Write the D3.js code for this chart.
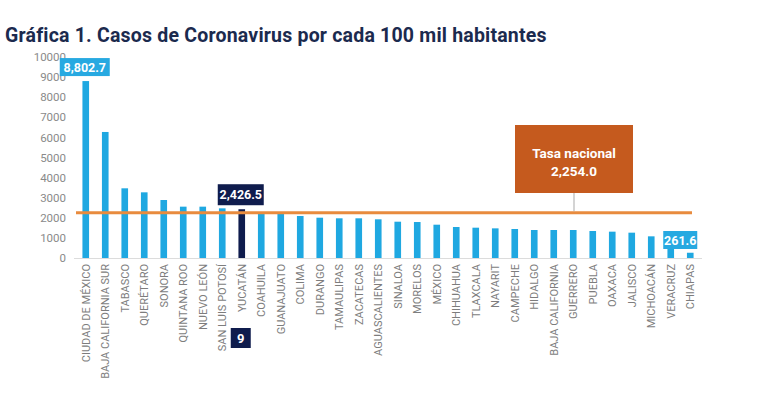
<!DOCTYPE html>
<html>
<head>
<meta charset="utf-8">
<script src="https://cdn.jsdelivr.net/npm/d3@7"></script>
<style>
  body { margin: 0; background: #fff; }
  text { font-family: Roboto, "Noto Sans", sans-serif; }
</style>
</head>
<body>
<div id="chart"></div>
<script>
// data
var estados = ['CIUDAD DE MÉXICO', 'BAJA CALIFORNIA SUR', 'TABASCO', 'QUERÉTARO', 'SONORA',
  'QUINTANA ROO', 'NUEVO LEÓN', 'SAN LUIS POTOSÍ', 'YUCATÁN', 'COAHUILA', 'GUANAJUATO',
  'COLIMA', 'DURANGO', 'TAMAULIPAS', 'ZACATECAS', 'AGUASCALIENTES', 'SINALOA', 'MORELOS',
  'MÉXICO', 'CHIHUAHUA', 'TLAXCALA', 'NAYARIT', 'CAMPECHE', 'HIDALGO', 'BAJA CALIFORNIA',
  'GUERRERO', 'PUEBLA', 'OAXACA', 'JALISCO', 'MICHOACÁN', 'VERACRUZ', 'CHIAPAS'];
var tasas = [8802.7, 6270, 3467, 3267, 2885, 2554, 2554, 2471, 2426.5, 2250, 2250,
  2090, 2005, 1975, 1975, 1925, 1806, 1790, 1657, 1542, 1508, 1475, 1443, 1393, 1393,
  1393, 1343, 1310, 1260, 1078, 1000, 261.6];
var yTicks = [0, 1000, 2000, 3000, 4000, 5000, 6000, 7000, 8000, 9000, 10000];
var tasaNacional = 2254.0;
var destacado = 'YUCATÁN';
var etiquetados = ['CIUDAD DE MÉXICO', 'CHIAPAS'];

var width = 768, height = 399;
var fmt = d3.format(',.1f');

var svg = d3.select('#chart').append('svg')
  .attr('width', width)
  .attr('height', height);

// title
svg.append('text')
  .attr('x', 5).attr('y', 42)
  .attr('fill', '#1b2a4e')
  .attr('font-size', 19.5).attr('font-weight', 700)
  .attr('letter-spacing', 0.2)
  .text('Gráfica 1. Casos de Coronavirus por cada 100 mil habitantes');

// scales
var x = d3.scaleBand()
  .domain(estados)
  .range([76, 700])
  .paddingInner(0.66)
  .paddingOuter(0.33);
var y = d3.scaleLinear().domain([0, 10000]).range([258, 57]);

// y tick labels (no axis line)
var yAxis = svg.append('g')
  .attr('transform', 'translate(66,0)')
  .call(d3.axisLeft(y).tickValues(yTicks).tickSize(0).tickPadding(0).tickFormat(d3.format('d')));
yAxis.select('.domain').remove();
yAxis.selectAll('text')
  .attr('fill', '#8a8a8a')
  .attr('font-size', 11.5)
  .style('font-family', 'Roboto, sans-serif');

// baseline
svg.append('line')
  .attr('x1', 74).attr('x2', 702)
  .attr('y1', y(0) + 0.5).attr('y2', y(0) + 0.5)
  .attr('stroke', '#dcdcdc').attr('stroke-width', 1);

// bars
svg.append('g').selectAll('rect')
  .data(estados)
  .enter().append('rect')
  .attr('x', function(d) { return x(d); })
  .attr('y', function(d, i) { return y(tasas[i]); })
  .attr('width', x.bandwidth())
  .attr('height', function(d, i) { return y(0) - y(tasas[i]); })
  .attr('fill', function(d) { return d === destacado ? '#0f1c4d' : '#1fa8e1'; });

// category labels
var xAxis = svg.append('g')
  .attr('transform', 'translate(0,' + (y(0) + 6) + ')')
  .call(d3.axisBottom(x).tickSize(0).tickPadding(0));
xAxis.select('.domain').remove();
xAxis.selectAll('text')
  .attr('transform', 'rotate(-90)')
  .attr('text-anchor', 'end')
  .attr('dy', '0.35em')
  .attr('x', 0).attr('y', 0)
  .attr('fill', '#7d7d7d')
  .attr('font-size', 11)
  .style('font-family', 'Roboto, sans-serif');

// national rate line
var yNac = y(tasaNacional);
svg.append('line')
  .attr('x1', 76).attr('x2', 692)
  .attr('y1', yNac).attr('y2', yNac)
  .attr('stroke', '#e88b3e').attr('stroke-width', 3);

var boxCx = 574;
svg.append('line')
  .attr('x1', boxCx).attr('x2', boxCx)
  .attr('y1', 193).attr('y2', yNac - 1.5)
  .attr('stroke', '#a9a9a9').attr('stroke-width', 1);
svg.append('rect')
  .attr('x', boxCx - 59).attr('y', 125)
  .attr('width', 118).attr('height', 68)
  .attr('fill', '#c55a1e');
svg.append('text')
  .attr('x', boxCx).attr('y', 158)
  .attr('text-anchor', 'middle')
  .attr('fill', '#fff').attr('font-size', 13.5).attr('font-weight', 700)
  .text('Tasa nacional');
svg.append('text')
  .attr('x', boxCx).attr('y', 176)
  .attr('text-anchor', 'middle')
  .attr('fill', '#fff').attr('font-size', 13.5).attr('font-weight', 700)
  .text(fmt(tasaNacional));

// value callouts
function callout(cx, bottom, w, h, fill, label) {
  svg.append('rect')
    .attr('x', cx - w / 2).attr('y', bottom - h)
    .attr('width', w).attr('height', h)
    .attr('fill', fill);
  svg.append('text')
    .attr('x', cx).attr('y', bottom - h / 2)
    .attr('dy', '0.36em')
    .attr('text-anchor', 'middle')
    .attr('fill', '#fff').attr('font-size', 12.5).attr('font-weight', 700)
    .text(label);
}

var iCdmx = estados.indexOf(etiquetados[0]);
callout(x(etiquetados[0]) + x.bandwidth() / 2 - 1, y(tasas[iCdmx]) - 5, 50, 18, '#27a9e1', fmt(tasas[iCdmx]));

var iChis = estados.indexOf(etiquetados[1]);
callout(x(etiquetados[1]) + x.bandwidth() / 2 - 10, 249, 34, 18, '#27a9e1', fmt(tasas[iChis]));

var iYuc = estados.indexOf(destacado);
var yucCx = x(destacado) + x.bandwidth() / 2 - 1;
callout(yucCx, y(tasas[iYuc]) - 4, 46, 21, '#0f1c4d', fmt(tasas[iYuc]));
// ranking box below the label
svg.append('rect')
  .attr('x', yucCx - 10).attr('y', 328)
  .attr('width', 20).attr('height', 20)
  .attr('fill', '#0f1c4d');
svg.append('text')
  .attr('x', yucCx).attr('y', 338)
  .attr('dy', '0.36em')
  .attr('text-anchor', 'middle')
  .attr('fill', '#fff').attr('font-size', 13).attr('font-weight', 700)
  .text(iYuc + 1);
</script>
</body>
</html>
